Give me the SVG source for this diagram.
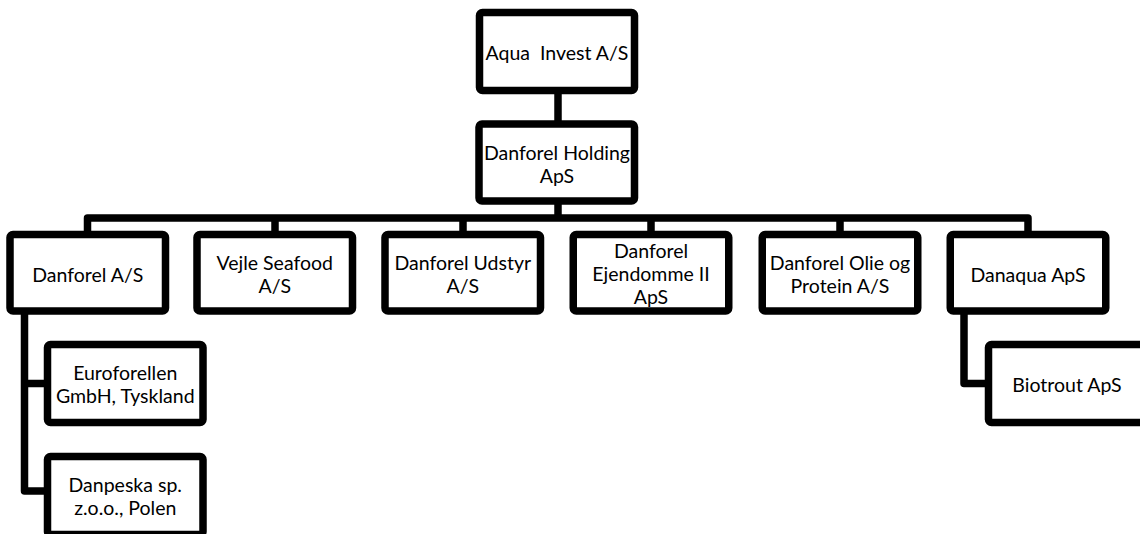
<svg xmlns="http://www.w3.org/2000/svg" width="1140" height="534" viewBox="0 0 1140 534">
<style>
.box{fill:#fff;stroke:#000;stroke-width:7.5;stroke-linejoin:round}
.con{fill:none;stroke:#000;stroke-width:7.5;stroke-linejoin:round}
text{font-family:Lato,"Liberation Sans",sans-serif;font-size:19.5px;fill:#000;text-anchor:middle;dominant-baseline:central;white-space:pre}
</style>
<rect width="1140" height="534" fill="#fff"/>
<g id="connectors">
<path class="con" d="M558,90.5V124"/>
<path class="con" d="M558,201V218"/>
<path class="con" d="M87.5,234.5V218H1028V234.5"/>
<path class="con" d="M275,218V234.5M463,218V234.5M651,218V234.5M840,218V234.5"/>
<path class="con" d="M24.5,311V491H47.5M24.5,383.5H47.5"/>
<path class="con" d="M964,311V383.5H988.5"/>
</g>
<g id="aqua-invest"><rect class="box" x="479.5" y="12.5" width="155" height="78" rx="3"/><text x="557" y="52.5">Aqua  Invest A/S</text></g>
<g id="danforel-holding"><rect class="box" x="479" y="124" width="155.5" height="77" rx="3"/><text x="557" y="152.5">Danforel Holding</text><text x="557" y="175.5">ApS</text></g>
<g id="danforel-as"><rect class="box" x="10" y="234.5" width="155.5" height="76.5" rx="3"/><text x="87.75" y="274">Danforel A/S</text></g>
<g id="vejle-seafood"><rect class="box" x="197" y="234.5" width="155.5" height="76.5" rx="3"/><text x="274.75" y="262.25">Vejle Seafood</text><text x="274.75" y="285.25">A/S</text></g>
<g id="danforel-udstyr"><rect class="box" x="385" y="234.5" width="155.5" height="76.5" rx="3"/><text x="462.75" y="262.25">Danforel Udstyr</text><text x="462.75" y="285.25">A/S</text></g>
<g id="danforel-ejendomme"><rect class="box" x="573.25" y="234.5" width="155.5" height="76.5" rx="3"/><text x="651" y="250.25">Danforel</text><text x="651" y="273.25">Ejendomme II</text><text x="651" y="296.25">ApS</text></g>
<g id="danforel-olie"><rect class="box" x="762.25" y="234.5" width="155.5" height="76.5" rx="3"/><text x="840" y="262.25">Danforel Olie og</text><text x="840" y="285.25">Protein A/S</text></g>
<g id="danaqua"><rect class="box" x="950.25" y="234.5" width="155.5" height="76.5" rx="3"/><text x="1028" y="274">Danaqua ApS</text></g>
<g id="euroforellen"><rect class="box" x="47.5" y="344.5" width="155.5" height="78" rx="3"/><text x="125.25" y="372.5">Euroforellen</text><text x="125.25" y="395.5">GmbH, Tyskland</text></g>
<g id="danpeska"><rect class="box" x="47.5" y="456.5" width="155.5" height="78" rx="3"/><text x="125.25" y="484">Danpeska sp.</text><text x="125.25" y="507">z.o.o., Polen</text></g>
<g id="biotrout"><rect class="box" x="988.5" y="344.5" width="170" height="78" rx="3"/><text x="1067" y="384">Biotrout ApS</text></g>
</svg>
